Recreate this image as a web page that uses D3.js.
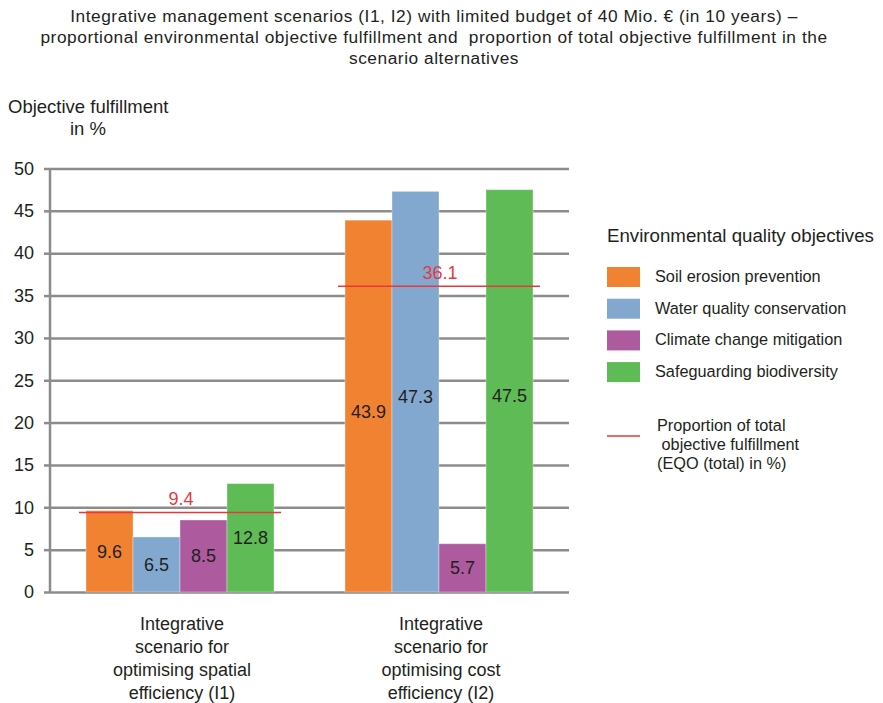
<!DOCTYPE html>
<html>
<head>
<meta charset="utf-8">
<script src="https://cdn.jsdelivr.net/npm/d3@7/dist/d3.min.js"></script>
<style>
  html, body { margin: 0; padding: 0; background: #fff; }
  svg { display: block; font-family: "Liberation Sans", Arial, sans-serif; }
</style>
</head>
<body>
<svg id="chart" width="883" height="703"></svg>
<script>
// Scenario groups (multi-line axis labels)
const scenarios = ["I1", "I2"];
const scenarioLabels = [
  ["Integrative", "scenario for", "optimising spatial", "efficiency (I1)"],
  ["Integrative", "scenario for", "optimising cost", "efficiency (I2)"]
];

// Environmental quality objectives (series)
const objectives = [
  "Soil erosion prevention",
  "Water quality conservation",
  "Climate change mitigation",
  "Safeguarding biodiversity"
];
const objectiveColors = ["#F08232", "#82A8D0", "#AE5A9F", "#5EBB55"];

// Objective fulfillment in % per scenario, one array per scenario
const valuesI1 = [9.6, 6.5, 8.5, 12.8];
const valuesI2 = [43.9, 47.3, 5.7, 47.5];

// Proportion of total objective fulfillment (EQO total) per scenario
const totalFulfillment = [9.4, 36.1];

const yTicks = [0, 5, 10, 15, 20, 25, 30, 35, 40, 45, 50];

const titleLines = [
  "Integrative management scenarios (I1, I2) with limited budget of 40 Mio. € (in 10 years) –",
  "proportional environmental objective fulfillment and  proportion of total objective fulfillment in the",
  "scenario alternatives"
];
const legendTitle = "Environmental quality objectives";
const totalLegendLines = ["Proportion of total", " objective fulfillment", "(EQO (total) in %)"];

const seriesByScenario = [valuesI1, valuesI2];

const svg = d3.select("#chart");
const textColor = "#231f20";
const gridColor = "#8c8c8c";
const redColor = "#E8383D";

// Scales
const x0 = d3.scaleBand().domain(scenarios).range([50, 569])
  .paddingInner(0.274).paddingOuter(0.139);
const x1 = d3.scaleBand().domain(objectives).range([0, x0.bandwidth()]).padding(0);
const y = d3.scaleLinear().domain([0, 50]).range([592, 168.5]);

// Title
svg.append("g").selectAll("text").data(titleLines).join("text")
  .attr("x", 434).attr("y", (d, i) => 22 + i * 21)
  .attr("text-anchor", "middle").attr("font-size", 17.3).attr("fill", textColor)
  .attr("letter-spacing", 0.55)
  .style("white-space", "pre")
  .text(d => d);

// Y axis title
svg.append("text").attr("x", 8).attr("y", 113)
  .attr("font-size", 18.5).attr("fill", textColor).text("Objective fulfillment");
svg.append("text").attr("x", 70).attr("y", 135)
  .attr("font-size", 18.5).attr("fill", textColor).text("in %");

// Gridlines + y axis
const yAxis = d3.axisLeft(y).tickValues(yTicks).tickSize(6).tickPadding(10);
const gy = svg.append("g").attr("transform", "translate(50,0)").call(yAxis);
gy.select(".domain").attr("stroke", gridColor).attr("stroke-width", 2.5)
  .attr("d", `M0,${y(50)}V${y(0) + 1}`);
gy.selectAll(".tick line").attr("stroke", gridColor).attr("stroke-width", 2.5);
gy.selectAll(".tick text").attr("font-size", 18).attr("fill", textColor)
  .attr("font-family", "Liberation Sans, Arial, sans-serif");
gy.selectAll(".tick").append("line")
  .attr("x1", 0).attr("x2", 569 - 50).attr("y1", 0).attr("y2", 0)
  .attr("stroke", gridColor).attr("stroke-width", 2.5);

// Bars
const groups = svg.append("g").selectAll("g").data(scenarios).join("g")
  .attr("transform", d => `translate(${x0(d)},0)`);

const barData = (s, si) => objectives.map((o, oi) => ({
  objective: o, value: seriesByScenario[si][oi], color: objectiveColors[oi]
}));

groups.each(function (s, si) {
  const g = d3.select(this);
  const data = barData(s, si);
  g.selectAll("rect").data(data).join("rect")
    .attr("x", d => x1(d.objective))
    .attr("width", x1.bandwidth())
    .attr("y", d => y(d.value))
    .attr("height", d => y(0) - y(d.value))
    .attr("fill", d => d.color)
    .attr("stroke", "#fff").attr("stroke-opacity", 0.35).attr("stroke-width", 1);
  g.selectAll("text.val").data(data).join("text").attr("class", "val")
    .attr("x", d => x1(d.objective) + x1.bandwidth() / 2)
    .attr("y", d => (y(d.value) + y(0)) / 2 + (d.value > 30 ? 5 : 0))
    .attr("dy", "0.36em")
    .attr("text-anchor", "middle").attr("font-size", 18).attr("fill", textColor)
    .text(d => d.value.toFixed(1));
});

// Total objective fulfillment lines
const totals = svg.append("g").selectAll("g").data(scenarios).join("g");
totals.append("line")
  .attr("x1", d => x0(d) - 7).attr("x2", d => x0(d) + x0.bandwidth() + 7)
  .attr("y1", (d, i) => y(totalFulfillment[i])).attr("y2", (d, i) => y(totalFulfillment[i]))
  .attr("stroke", redColor).attr("stroke-width", 1.5);
totals.append("text")
  .attr("x", d => x0(d) + x0.bandwidth() / 2 + 1)
  .attr("y", (d, i) => y(totalFulfillment[i]) - 7)
  .attr("text-anchor", "middle").attr("font-size", 18).attr("fill", redColor)
  .text((d, i) => totalFulfillment[i].toFixed(1));

// Category labels
const cat = svg.append("g").selectAll("text").data(scenarios).join("text")
  .attr("text-anchor", "middle").attr("font-size", 18).attr("fill", textColor);
cat.each(function (d, i) {
  d3.select(this).selectAll("tspan").data(scenarioLabels[i]).join("tspan")
    .attr("x", x0(d) + x0.bandwidth() / 2 + 2)
    .attr("y", (t, j) => 630 + j * 23)
    .text(t => t);
});

// Legend
const legend = svg.append("g");
legend.append("text").attr("x", 607).attr("y", 242)
  .attr("font-size", 18.7).attr("fill", textColor).text(legendTitle);
const items = legend.selectAll("g.item").data(objectives).join("g").attr("class", "item")
  .attr("transform", (d, i) => `translate(607,${267 + i * 31.7})`);
items.append("rect").attr("width", 33).attr("height", 20)
  .attr("fill", (d, i) => objectiveColors[i]);
items.append("text").attr("x", 48).attr("y", 15)
  .attr("font-size", 16.3).attr("fill", textColor).text(d => d);

legend.append("line").attr("x1", 607).attr("x2", 640).attr("y1", 436).attr("y2", 436)
  .attr("stroke", redColor).attr("stroke-width", 1.5);
legend.append("text").attr("font-size", 16.3).attr("fill", textColor)
  .style("white-space", "pre")
  .selectAll("tspan").data(totalLegendLines).join("tspan")
  .attr("x", 657).attr("y", (d, i) => 431 + i * 19)
  .text(d => d);
</script>
</body>
</html>
